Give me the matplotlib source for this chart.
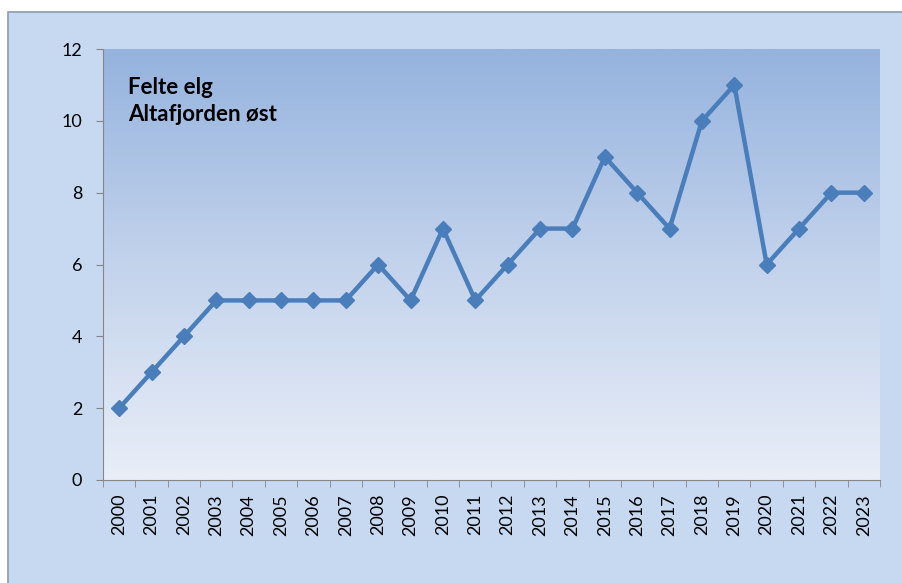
import matplotlib
matplotlib.use("Agg")
import matplotlib.pyplot as plt
import numpy as np
from matplotlib.patches import Rectangle
from matplotlib.colors import LinearSegmentedColormap

years = [str(y) for y in range(2000, 2024)]
felte = [2, 3, 4, 5, 5, 5, 5, 5, 6, 5, 7, 5, 6, 7, 7, 9, 8, 7, 10, 11, 6, 7, 8, 8]
yticks = [0, 2, 4, 6, 8, 10, 12]

plt.rcParams['font.family'] = ['Lato', 'DejaVu Sans']

W, H = 903, 583
fig = plt.figure(figsize=(W / 100, H / 100), dpi=100)
fig.patch.set_facecolor('white')
fig.patches.append(Rectangle((8 / W, -0.05), 1.1, 1.05 - 12 / H, transform=fig.transFigure,
                             facecolor='#c6d9f1', edgecolor='#8c9bb0', linewidth=1.2, zorder=-5))

ax = fig.add_axes([103 / W, 1 - 480 / H, (880 - 103) / W, (480 - 49) / H])
ax.set_facecolor('none')
ax.set_zorder(2)

cmap = LinearSegmentedColormap.from_list('g', ['#95b3de', '#c3d3ec', '#e9eef8'])
grad = np.linspace(0, 1, 256).reshape(-1, 1)
ax.imshow(grad, aspect='auto', cmap=cmap, extent=(0, 1, 0, 1), transform=ax.transAxes, zorder=0)

x = np.arange(len(years))
ax.plot(x, felte, color='#4a7ebb', linewidth=3.2, marker='D', markersize=8.5, zorder=3)

ax.set_xlim(-0.5, len(years) - 0.5)
ax.set_ylim(0, 12)
ax.set_yticks(yticks)
ax.set_yticklabels([str(v) for v in yticks], fontsize=13)
ax.set_xticks(x)
ax.set_xticklabels(years, rotation=90, fontsize=13)
ax.tick_params(axis='x', which='major', length=0, pad=10)
ax.set_xticks(np.arange(-0.5, len(years), 1), minor=True)
ax.tick_params(axis='x', which='minor', length=5, color='#868686', direction='out')
ax.tick_params(axis='y', length=5, color='#868686', direction='out', pad=10)

for s in ['top', 'right']:
    ax.spines[s].set_visible(False)
for s in ['left', 'bottom']:
    ax.spines[s].set_color('#868686')

ax.text(0.032, 0.935, 'Felte elg\nAltafjorden øst', transform=ax.transAxes, fontsize=16,
        fontweight='bold', va='top', ha='left', linespacing=1.35, color='black')

fig.savefig('out.png', dpi=100)
